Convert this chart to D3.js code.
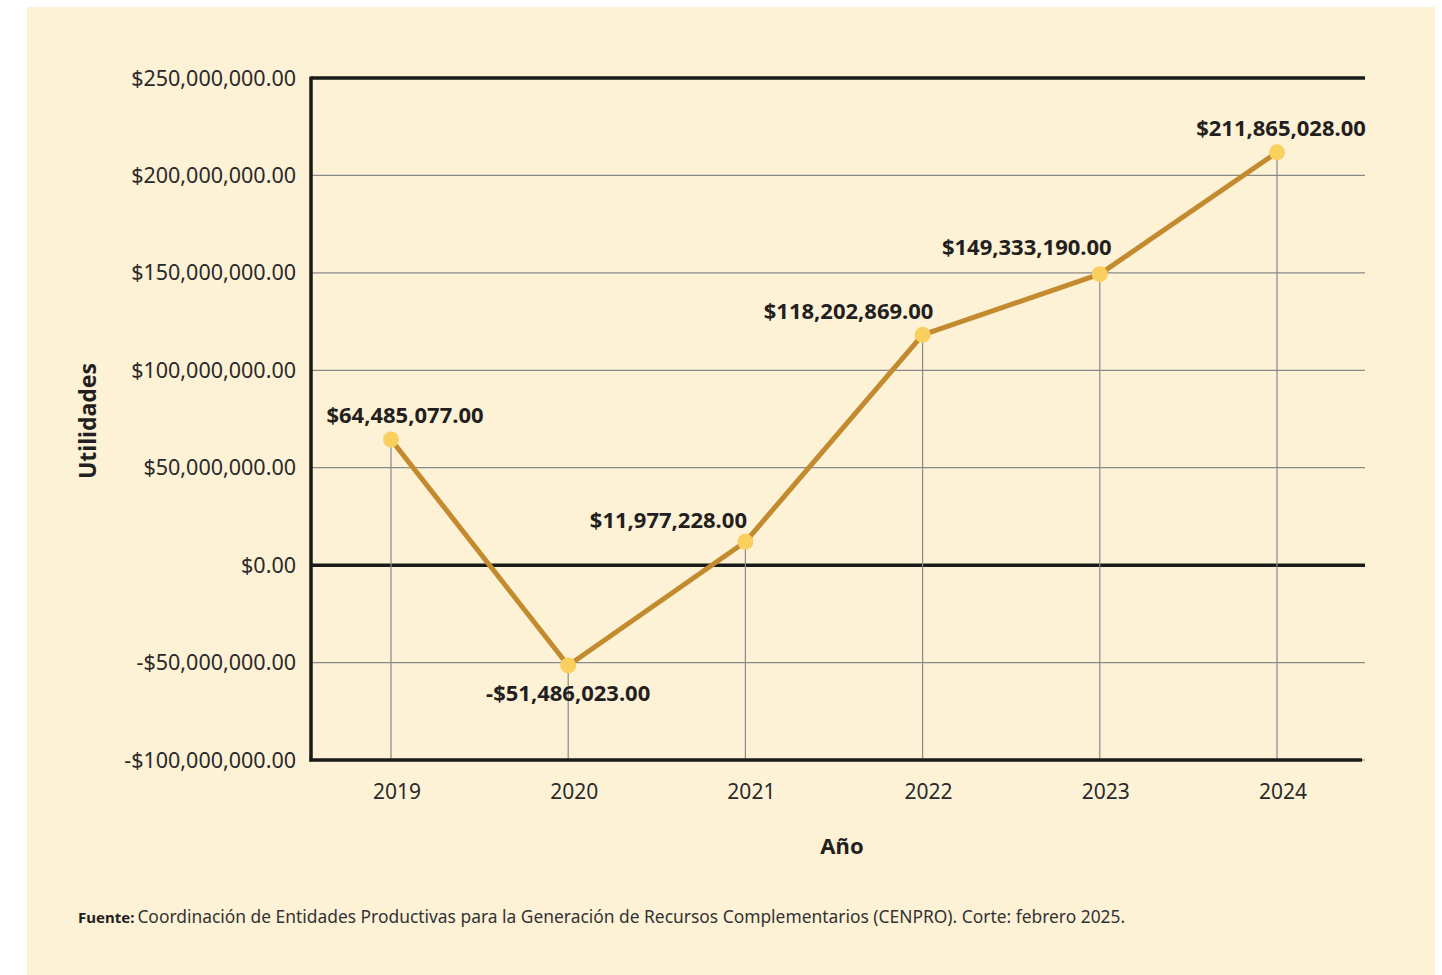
<!DOCTYPE html>
<html><head><meta charset="utf-8">
<script src="https://cdn.jsdelivr.net/npm/d3@7"></script>
<style>
html,body{margin:0;padding:0;background:#fff;}
svg{display:block;}
</style></head>
<body>
<svg id="chart" width="1442" height="975"></svg>
<script>
const years = ["2019","2020","2021","2022","2023","2024"];
const utilidades = [64485077, -51486023, 11977228, 118202869, 149333190, 211865028];
const yTicks = [250000000, 200000000, 150000000, 100000000, 50000000, 0, -50000000, -100000000];
const valueLabels = ["$64,485,077.00","-$51,486,023.00","$11,977,228.00","$118,202,869.00","$149,333,190.00","$211,865,028.00"];
// label placement (style only)
const labelDx = [14, 0, -77, -74, -73, 4];
const labelDy = [-16, 36, -14, -16, -19, -16];

const svg = d3.select("#chart");
svg.append("rect").attr("x",27).attr("y",7).attr("width",1408).attr("height",968).attr("fill","#FDF1D6");

const pLeft = 311, pRight = 1365, pTop = 78, pBottom = 760;
const x = d3.scalePoint().domain(years).range([391, 1277]);
const y = d3.scaleLinear().domain([-100000000, 250000000]).range([pBottom, pTop]);

const fmt = v => (v<0?"-":"") + "$" + d3.format(",.2f")(Math.abs(v));
const font = "'Noto Sans', 'Open Sans', sans-serif";

// gridlines
svg.append("g").selectAll("line").data(yTicks).join("line")
  .attr("x1", pLeft).attr("x2", pRight)
  .attr("y1", d=>y(d)).attr("y2", d=>y(d))
  .attr("stroke", d=> (d===0||d===250000000) ? "#1a1a1a" : "#8a8a8a")
  .attr("stroke-width", d=> (d===0||d===250000000) ? 3.5 : 1.2);

// vertical drop lines
svg.append("g").selectAll("line").data(years).join("line")
  .attr("x1", d=>x(d)).attr("x2", d=>x(d))
  .attr("y1", (d,i)=>y(utilidades[i])).attr("y2", pBottom)
  .attr("stroke","#8a8a8a").attr("stroke-width",1.2);

// axes frame
svg.append("line").attr("x1",pLeft).attr("x2",pLeft).attr("y1",pTop-1.5).attr("y2",pBottom+1.5)
  .attr("stroke","#1a1a1a").attr("stroke-width",3.5);
svg.append("line").attr("x1",pLeft-1.5).attr("x2",1362).attr("y1",pBottom).attr("y2",pBottom)
  .attr("stroke","#1a1a1a").attr("stroke-width",3.5);

// y axis labels
svg.append("g").selectAll("text").data(yTicks).join("text")
  .attr("x", 296).attr("y", d=>y(d)).attr("dy","0.35em")
  .attr("text-anchor","end").attr("font-family",font).attr("font-size",21.5)
  .attr("fill","#2a2a2a").text(d=>fmt(d));

// x axis labels
svg.append("g").selectAll("text").data(years).join("text")
  .attr("x", d=>x(d)+6).attr("y", 799)
  .attr("text-anchor","middle").attr("font-family",font).attr("font-size",21)
  .attr("fill","#2a2a2a").text(d=>d);

// line
const line = d3.line().x((d,i)=>x(years[i])).y(d=>y(d));
svg.append("path").datum(utilidades).attr("d",line)
  .attr("fill","none").attr("stroke","#C38A2E").attr("stroke-width",5).attr("stroke-linejoin","round");

// points
svg.append("g").selectAll("circle").data(utilidades).join("circle")
  .attr("cx",(d,i)=>x(years[i])).attr("cy",d=>y(d)).attr("r",8)
  .attr("fill","#F9CF5E");

// value labels
svg.append("g").selectAll("text").data(valueLabels).join("text")
  .attr("x",(d,i)=>x(years[i])+labelDx[i]).attr("y",(d,i)=>y(utilidades[i])+labelDy[i])
  .attr("text-anchor","middle").attr("font-family",font).attr("font-size",22).attr("font-weight","bold")
  .attr("fill","#231f20").text(d=>d);

// axis titles
svg.append("text").attr("transform","translate(96,421) rotate(-90)")
  .attr("text-anchor","middle").attr("font-family",font).attr("font-size",23).attr("font-weight","bold")
  .attr("fill","#231f20").text("Utilidades");
svg.append("text").attr("x",842).attr("y",854)
  .attr("text-anchor","middle").attr("font-family",font).attr("font-size",22).attr("font-weight","bold")
  .attr("fill","#231f20").text("Año");

// footer
const foot = svg.append("text").attr("x",78).attr("y",923).attr("font-family",font)
  .attr("font-size",17.4).attr("fill","#333");
foot.append("tspan").attr("font-weight","bold").attr("font-size",15).attr("fill","#231f20").text("Fuente:");
foot.append("tspan").attr("dx",3).text("Coordinación de Entidades Productivas para la Generación de Recursos Complementarios (CENPRO). Corte: febrero 2025.");
</script>
</body></html>
